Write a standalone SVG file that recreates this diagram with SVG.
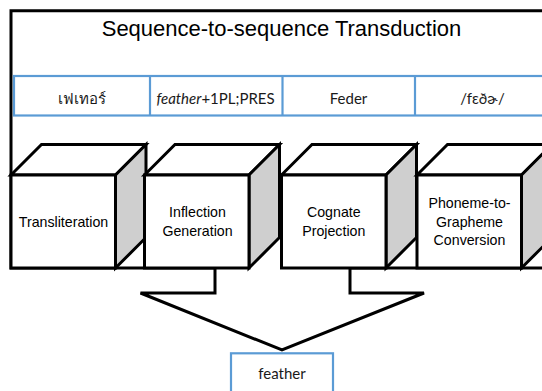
<svg xmlns="http://www.w3.org/2000/svg" width="542" height="391" viewBox="0 0 542 391">
  <style>
    .frame { fill: #ffffff; stroke: #000000; stroke-width: 3; stroke-linejoin: miter; }
    .cell { fill: #ffffff; stroke: #5B9BD5; stroke-width: 2.2; }
    .div { stroke: #5B9BD5; stroke-width: 2.2; }
    .face { fill: #ffffff; stroke: #000000; stroke-width: 3; stroke-linejoin: miter; }
    .side { fill: #cfcfcf; stroke: #000000; stroke-width: 3; stroke-linejoin: miter; }
    .title { font-family: "Liberation Sans", Arial, sans-serif; font-size: 22px; fill: #000000; text-anchor: middle; }
    .lbl { font-family: "Liberation Sans", Arial, sans-serif; font-size: 14.2px; fill: #000000; text-anchor: middle; }
    .cal { font-family: Lato, "Noto Sans", "DejaVu Sans", sans-serif; font-size: 15px; fill: #1a1a1a; text-anchor: middle; }
  </style>

  <g id="connectors">
    <polygon id="transduction-frame-arrow" class="frame" points="11,10.7 562,10.7 562,268 350,268 350,293 424,293 282,350 140.5,293 215,293 215,268 11,268"/>
  </g>

  <g id="title">
    <text class="title" x="281.5" y="35.7">Sequence-to-sequence Transduction</text>
  </g>

  <g id="table">
    <rect class="cell" x="14" y="76" width="550" height="39.5"/>
    <line class="div" x1="150" y1="76" x2="150" y2="115.5"/>
    <line class="div" x1="282.5" y1="76" x2="282.5" y2="115.5"/>
    <line class="div" x1="415" y1="76" x2="415" y2="115.5"/>
    <g id="cell-thai"><text class="cal" x="82" y="104">เฟเทอร์</text></g>
    <g id="cell-inflection"><text class="cal" x="215.5" y="104"><tspan font-style="italic">feather</tspan>+1PL;PRES</text></g>
    <g id="cell-cognate"><text class="cal" x="348.5" y="104">Feder</text></g>
    <g id="cell-ipa"><text class="cal" x="482.5" y="104">/fɛðɚ/</text></g>
  </g>

  <g id="cube-transliteration">
    <polygon class="face" points="11,175 41.5,144.5 146,144.5 115.5,175"/>
    <polygon class="side" points="115.5,175 146,144.5 146,237.5 115.5,268"/>
    <rect class="face" x="11" y="175" width="104.5" height="93"/>
    <text class="lbl" x="63.5" y="226.7">Transliteration</text>
  </g>

  <g id="cube-inflection">
    <polygon class="face" points="144.5,175 175,144.5 279.5,144.5 249,175"/>
    <polygon class="side" points="249,175 279.5,144.5 279.5,237.5 249,268"/>
    <rect class="face" x="144.5" y="175" width="104.5" height="93"/>
    <text class="lbl" x="197.5" y="217.3">Inflection</text>
    <text class="lbl" x="197.5" y="236">Generation</text>
  </g>

  <g id="cube-cognate">
    <polygon class="face" points="281.5,175 312,144.5 416.5,144.5 386,175"/>
    <polygon class="side" points="386,175 416.5,144.5 416.5,237.5 386,268"/>
    <rect class="face" x="281.5" y="175" width="104.5" height="93"/>
    <text class="lbl" x="333.8" y="217.3">Cognate</text>
    <text class="lbl" x="333.8" y="236">Projection</text>
  </g>

  <g id="cube-p2g">
    <polygon class="face" points="417,175 447.5,144.5 552,144.5 521.5,175"/>
    <polygon class="side" points="521.5,175 552,144.5 552,237.5 521.5,268"/>
    <rect class="face" x="417" y="175" width="104.5" height="93"/>
    <text class="lbl" x="469.5" y="208.3">Phoneme-to-</text>
    <text class="lbl" x="469.5" y="226.7">Grapheme</text>
    <text class="lbl" x="469.5" y="244.5">Conversion</text>
  </g>

  <g id="output-feather">
    <rect class="cell" x="231" y="353.3" width="102" height="60"/>
    <text class="cal" x="282" y="379.3">feather</text>
  </g>
</svg>
